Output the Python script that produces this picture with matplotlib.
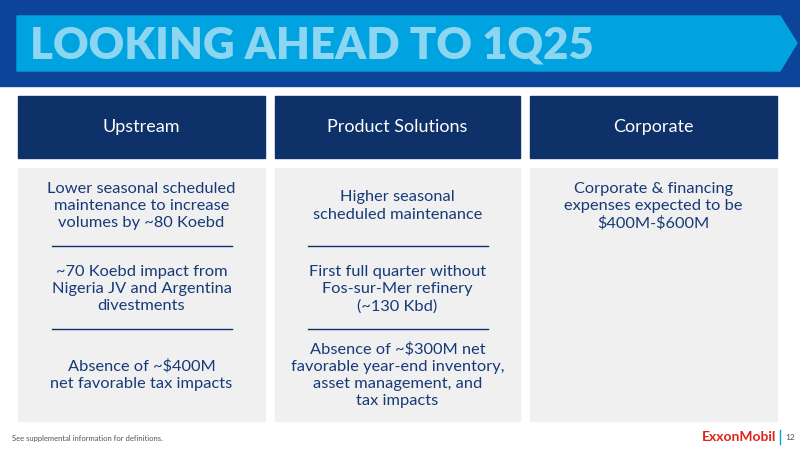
import matplotlib
matplotlib.use('Agg')
import matplotlib.pyplot as plt
from matplotlib.patches import Rectangle, Polygon

plt.rcParams['text.parse_math'] = False

title = "LOOKING AHEAD TO 1Q25"
columns = ["Upstream", "Product Solutions", "Corporate"]
items = [
    ["Lower seasonal scheduled\nmaintenance to increase\nvolumes by ~80 Koebd",
     "~70 Koebd impact from\nNigeria JV and Argentina\ndivestments",
     "Absence of ~$400M\nnet favorable tax impacts"],
    ["Higher seasonal\nscheduled maintenance",
     "First full quarter without\nFos-sur-Mer refinery\n(~130 Kbd)",
     "Absence of ~$300M net\nfavorable year-end inventory,\nasset management, and\ntax impacts"],
    ["Corporate & financing\nexpenses expected to be\n$400M-$600M"],
]
item_y = [
    [206, 289, 375],
    [206, 289, 375],
    [206],
]
divider_y = [[246, 329], [246, 329], []]

fig = plt.figure(figsize=(8, 4.5), dpi=100)
ax = fig.add_axes([0, 0, 1, 1])
ax.set_xlim(0, 800)
ax.set_ylim(450, 0)
ax.axis('off')

ax.add_patch(Rectangle((0, 0), 800, 86, color='#0c449a'))
ax.add_patch(Polygon([(17, 16), (780, 16), (797, 43), (780, 71), (17, 71)], color='#00a3e0'))
ax.text(30, 46, title, fontsize=31.5, fontweight='heavy', color='#8dd6f2',
        va='center', ha='left', family='Lato')

xs = [(18, 265), (275, 520), (530, 777)]
for i, (x0, x1) in enumerate(xs):
    cx = (x0 + x1) / 2
    ax.add_patch(Rectangle((x0, 96), x1 - x0, 62, color='#0d3168'))
    ax.text(cx, 127, columns[i], color='white', fontsize=13, ha='center', va='center', family='Lato')
    ax.add_patch(Rectangle((x0, 168), x1 - x0, 253, color='#f0f0f0'))
    for txt, y in zip(items[i], item_y[i]):
        ax.text(cx, y, txt, color='#163a78', fontsize=11.8, ha='center', va='center',
                family='Lato', linespacing=1.28)
    for y in divider_y[i]:
        ax.plot([cx - 90, cx + 90], [y, y], color='#0d3168', lw=1)

ax.text(12, 438, "See supplemental information for definitions.", fontsize=5.5,
        color='#555555', va='center', family='Lato')
ax.text(776, 437, "ExxonMobil", fontsize=10, fontweight='bold', color='#e2231a',
        ha='right', va='center', family='Lato')
ax.plot([780, 780], [430, 444], color='#00a3e0', lw=1)
ax.text(785, 437, "12", fontsize=6, color='#555555', va='center', family='Lato')

fig.savefig('out.png', dpi=100)
